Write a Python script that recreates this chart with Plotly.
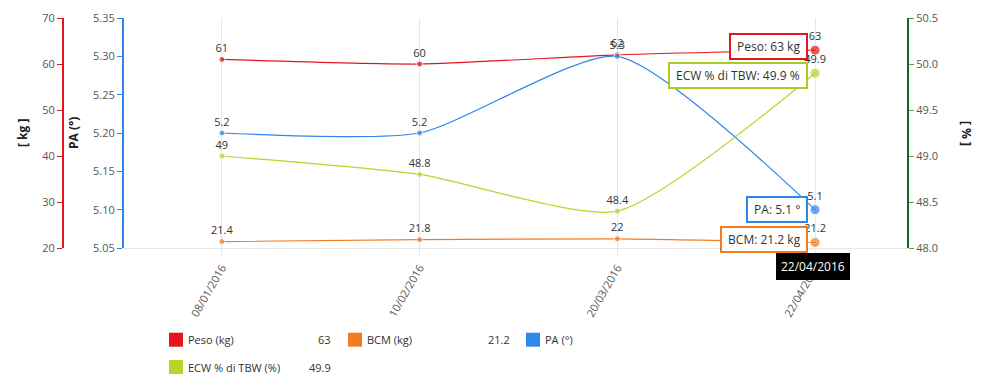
import plotly.graph_objects as go

dates = ["08/01/2016", "10/02/2016", "20/03/2016", "22/04/2016"]
peso = [61, 60, 62, 63]
bcm = [21.4, 21.8, 22, 21.2]
pa = [5.2, 5.2, 5.3, 5.1]
ecw = [49, 48.8, 48.4, 49.9]

names = ["Peso (kg)", "BCM (kg)", "PA (°)", "ECW % di TBW (%)"]
RED = "#e3161d"
ORANGE = "#f47c20"
BLUE = "#2f86eb"
GREEN = "#b5d62a"
FONT = "Open Sans"

W, H = 988, 386
PL, PR, PT, PB = 123, 908, 18, 248


def px_x(px):
    return px / W


def px_y(py):
    return (PB - py) / (PB - PT)


def fmt(v):
    return ("%g" % v)


fig = go.Figure()

series = [
    (peso, names[0], RED, "y"),
    (bcm, names[1], ORANGE, "y"),
    (pa, names[2], BLUE, "y2"),
    (ecw, names[3], GREEN, "y3"),
]
for vals, nm, col, ax in series:
    fig.add_trace(go.Scatter(
        x=dates, y=vals, name=nm, yaxis=ax,
        mode="lines+markers+text",
        line=dict(color=col, width=1.2, shape="spline", smoothing=0.6),
        marker=dict(color=col, size=[6, 6, 6, 10]),
        text=[fmt(v) for v in vals],
        textposition="top center",
        textfont=dict(family=FONT, size=11, color="#333"),
        cliponaxis=False,
        showlegend=False,
        hoverinfo="skip",
    ))

tickfont = dict(family=FONT, size=11, color="#555")

fig.update_layout(
    width=W, height=H,
    margin=dict(l=0, r=0, t=PT, b=H - PB, autoexpand=False),
    paper_bgcolor="white", plot_bgcolor="white",
    font=dict(family=FONT, size=11, color="#333"),
    hovermode=False,
    showlegend=False,
    xaxis=dict(
        type="category",
        domain=[PL / W, PR / W],
        range=[-0.5, 3.47],
        showgrid=True, gridcolor="#e6e6e6", gridwidth=1,
        showline=True, linecolor="#e6e6e6", linewidth=1,
        ticks="outside", tickcolor="#e6e6e6", ticklen=8,
        tickangle=-60,
        tickfont=tickfont,
        zeroline=False,
        automargin=False,
    ),
    yaxis=dict(
        range=[20, 70], dtick=10,
        anchor="free", position=63 / W, side="left",
        showline=True, linecolor=RED, linewidth=2,
        ticks="outside", tickcolor=RED, ticklen=5,
        tickfont=tickfont,
        showgrid=False, zeroline=False,
        automargin=False,
    ),
    yaxis2=dict(
        range=[5.05, 5.35], dtick=0.05, tickformat=".2f",
        overlaying="y", anchor="free", position=PL / W, side="left",
        showline=True, linecolor=BLUE, linewidth=2,
        ticks="outside", tickcolor=BLUE, ticklen=5,
        tickfont=tickfont,
        showgrid=False, zeroline=False,
        automargin=False,
    ),
    yaxis3=dict(
        range=[48, 50.5], dtick=0.5, tickformat=".1f",
        overlaying="y", anchor="free", position=PR / W, side="right",
        showline=True, linecolor="#14661c", linewidth=2,
        ticks="outside", tickcolor="#5a9a5a", ticklen=5,
        tickfont=tickfont,
        showgrid=False, zeroline=False,
        automargin=False,
    ),
)

annotations = []
# axis titles
for txt, xp, ang in [("[ kg ]", 22, -90), ("PA (°)", 73, -90), ("[ % ]", 967, 90)]:
    annotations.append(dict(
        text="<b>%s</b>" % txt, xref="paper", yref="paper",
        x=px_x(xp), y=px_y(133), showarrow=False, textangle=ang,
        xanchor="center", yanchor="middle",
        font=dict(family=FONT, size=12, color="#222"),
    ))

# tooltips at the last point
last = len(dates) - 1
tips = [
    ("Peso: %s kg" % fmt(peso[last]), peso[last], "y", RED, 4),
    ("ECW % di TBW: " + fmt(ecw[last]) + " %", ecw[last], "y3", "#a8cc22", -2),
    ("PA: %s °" % fmt(pa[last]), pa[last], "y2", BLUE, 0),
    ("BCM: %s kg" % fmt(bcm[last]), bcm[last], "y", ORANGE, 3),
]
for txt, val, yr, col, ys in tips:
    annotations.append(dict(
        text="&nbsp;" + txt + "&nbsp;", xref="x", yref=yr, x=dates[last], y=val,
        showarrow=False, xanchor="right", yanchor="middle",
        xshift=-7, yshift=ys,
        bgcolor="white", bordercolor=col, borderwidth=2, borderpad=3,
        font=dict(family=FONT, size=12, color="#333"),
    ))
annotations.append(dict(
    text=dates[last], xref="x", yref="y", x=dates[last], y=bcm[last],
    showarrow=False, xanchor="center", yanchor="top", xshift=-2, yshift=-11,
    bgcolor="black", bordercolor="black", borderwidth=1, borderpad=4,
    font=dict(family=FONT, size=12, color="white"),
))

# custom legend
shapes = []
legend_items = [
    (names[0], fmt(peso[last]), RED, 169, 186, 332.7, 339.7),
    (names[1], fmt(bcm[last]), ORANGE, 348, 365, 511.7, 339.7),
    (names[2], "", BLUE, 526, 543, None, 339.7),
    (names[3], fmt(ecw[last]), GREEN, 169, 186, 332.7, 367),
]
for nm, val, col, sx, tx, vx, cy in legend_items:
    shapes.append(dict(
        type="rect", xref="paper", yref="paper",
        x0=px_x(sx), x1=px_x(sx + 14), y0=px_y(cy - 7), y1=px_y(cy + 7),
        fillcolor=col, line=dict(width=0),
    ))
    annotations.append(dict(
        text=nm, xref="paper", yref="paper", x=px_x(tx), y=px_y(cy),
        showarrow=False, xanchor="left", yanchor="middle",
        font=dict(family=FONT, size=11, color="#333"),
    ))
    if vx is not None and val:
        annotations.append(dict(
            text=val, xref="paper", yref="paper", x=px_x(vx), y=px_y(cy),
            showarrow=False, xanchor="right", yanchor="middle",
            font=dict(family=FONT, size=11, color="#333"),
        ))

fig.update_layout(annotations=annotations, shapes=shapes)

fig.write_html("out.html",
               config={"displayModeBar": False},
               post_script="document.body.style.margin='0';document.body.style.overflow='hidden';")
